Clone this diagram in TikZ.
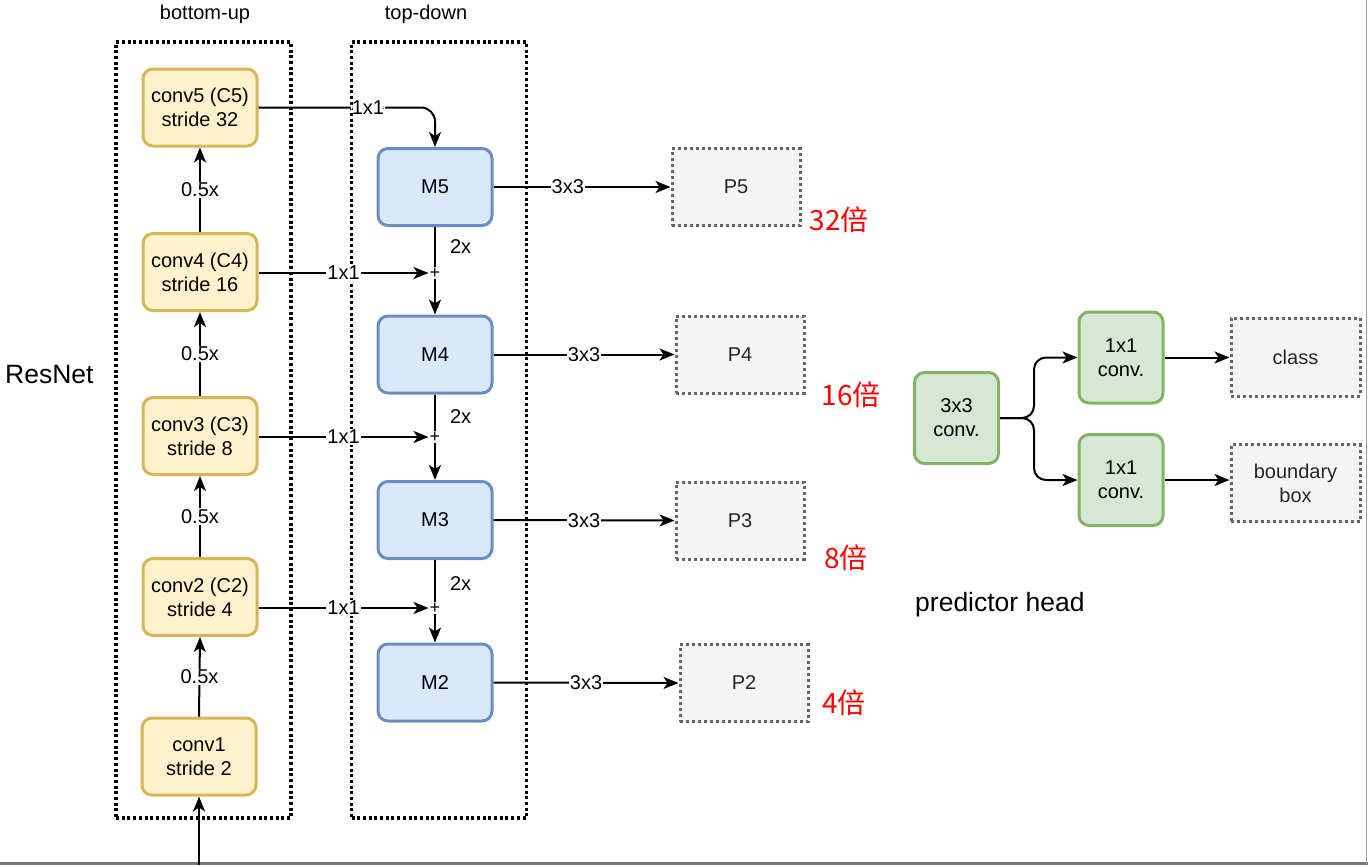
\documentclass[tikz,border=0pt]{standalone}
\usepackage{fontspec}
\setmainfont{Liberation Sans}
\newfontfamily\cjk{Noto Sans CJK SC}
\usetikzlibrary{arrows.meta}
\definecolor{yfill}{HTML}{FFF2CC}\definecolor{ydraw}{HTML}{D6B656}
\definecolor{bfill}{HTML}{DAE8FC}\definecolor{bdraw}{HTML}{6C8EBF}
\definecolor{gfill}{HTML}{D5E8D4}\definecolor{gdraw}{HTML}{82B366}
\definecolor{pfill}{HTML}{F5F5F5}\definecolor{pdraw}{HTML}{666666}
\definecolor{frame}{HTML}{777777}
\begin{document}
\begin{tikzpicture}[x=1pt,y=-1pt,
  base/.style={font=\fontsize{20}{24}\selectfont, align=center, inner sep=0pt},
  ybox/.style={base, draw=ydraw, fill=yfill, line width=3pt, rounded corners=10pt, minimum width=114pt, minimum height=77pt},
  bbox/.style={base, draw=bdraw, fill=bfill, line width=3pt, rounded corners=10pt, minimum width=114pt, minimum height=77pt},
  gbox/.style={base, draw=gdraw, fill=gfill, line width=3pt, rounded corners=10pt, minimum width=84pt, minimum height=91pt},
  pbox/.style={base, draw=pdraw, fill=pfill, line width=3pt, dash pattern=on 3pt off 3pt, minimum width=128pt, minimum height=77pt, text=black!85},
  group/.style={draw=black, line width=3.3pt, dash pattern=on 3pt off 2.7pt, minimum width=175pt, minimum height=776pt, inner sep=0pt},
  edge/.style={line width=2pt, -{Stealth[length=15pt,width=12pt,inset=4pt]}},
  plain/.style={line width=2pt},
  lbl/.style={base, fill=white, inner sep=1pt},
  plus/.style={font=\fontsize{18}{18}\selectfont, inner sep=1pt},
  redlbl/.style={font=\cjk\fontsize{28}{30}\selectfont, text=red, inner sep=0pt},
  title/.style={font=\fontsize{26.5}{30}\selectfont, inner sep=0pt},
]
\useasboundingbox (0,0) rectangle (1368,865);
% frame of screenshot
\draw[frame, line width=3pt] (0,863.5) -- (1368,863.5);
\draw[frame!70, line width=1.5pt] (1366.5,0) -- (1366.5,865);

% groups
\node[group] (gbu) at (203.5,430) {};
\node[group] (gtd) at (439,430) {};
\node[base, anchor=base] (tbu) at (205,19) {bottom-up};
\node[base, anchor=base] (ttd) at (426,19) {top-down};
\node[title, anchor=base west] (resnet) at (5,383) {ResNet};

% bottom-up
\node[ybox] (c5) at (200,107.5) {conv5 (C5)\\stride 32};
\node[ybox] (c4) at (200,272) {conv4 (C4)\\stride 16};
\node[ybox] (c3) at (200,436) {conv3 (C3)\\stride 8};
\node[ybox] (c2) at (200,597) {conv2 (C2)\\stride 4};
\node[ybox] (c1) at (199,756.5) {conv1\\stride 2};
\coordinate (inp) at (199,865);

% top-down
\node[bbox] (m5) at (435,187) {M5};
\node[bbox] (m4) at (435,354.5) {M4};
\node[bbox] (m3) at (435,520) {M3};
\node[bbox] (m2) at (435,682.5) {M2};
\node[plus] (p4) at (435,273) {+};
\node[plus] (p3) at (435,437) {+};
\node[plus] (p2) at (435,608) {+};

% outputs
\node[pbox] (o5) at (736,187) {P5};
\node[pbox] (o4) at (740,354.5) {P4};
\node[pbox] (o3) at (740,520.5) {P3};
\node[pbox] (o2) at (744,683) {P2};
\node[redlbl] (r5) at (839,220) {32倍};
\node[redlbl] (r4) at (851,395) {16倍};
\node[redlbl] (r3) at (846,558) {8倍};
\node[redlbl] (r2) at (844,703) {4倍};

% bottom-up edges
\draw[edge] (inp) -- (c1.south);
\draw[edge] (c1.north) -- node[lbl]{0.5x} (c2.south);
\draw[edge] (c2.north) -- node[lbl]{0.5x} (c3.south);
\draw[edge] (c3.north) -- node[lbl]{0.5x} (c4.south);
\draw[edge] (c4.north) -- node[lbl]{0.5x} (c5.south);

% lateral edges
\draw[edge, rounded corners=14pt] (c5.east) -| node[lbl, pos=0.31]{1x1} (m5.north);
\draw[edge] (p4 -| c4.east) -- node[lbl]{1x1} (p4.west);
\draw[edge] (p3 -| c3.east) -- node[lbl]{1x1} (p3.west);
\draw[edge] (p2 -| c2.east) -- node[lbl]{1x1} (p2.west);

% top-down edges
\draw[plain] (m5.south) -- node[base, anchor=west, xshift=14pt]{2x} (p4.north);
\draw[edge] (p4.south) -- (m4.north);
\draw[plain] (m4.south) -- node[base, anchor=west, xshift=14pt, yshift=-4pt]{2x} (p3.north);
\draw[edge] (p3.south) -- (m3.north);
\draw[plain] (m3.south) -- node[base, anchor=west, xshift=14pt, yshift=-3pt]{2x} (p2.north);
\draw[edge] (p2.south) -- (m2.north);

% output edges
\draw[edge] (m5.east) -- node[lbl, pos=0.42]{3x3} (o5.west);
\draw[edge] (m4.east) -- node[lbl]{3x3} (o4.west);
\draw[edge] (m3.east) -- node[lbl]{3x3} (o3.west);
\draw[edge] (m2.east) -- node[lbl]{3x3} (o2.west);

% predictor head
\node[gbox] (h3) at (956.5,418) {3x3\\conv.};
\node[gbox] (h1a) at (1121,357.5) {1x1\\conv.};
\node[gbox] (h1b) at (1121,480) {1x1\\conv.};
\node[pbox, minimum width=129pt, minimum height=78pt] (cls) at (1295.5,357) {class};
\node[pbox, minimum width=129pt, minimum height=77pt] (bb) at (1295.5,483) {boundary\\box};
\draw[edge, rounded corners=12pt] (h3.east) -- ++(34,0) |- (h1a.west);
\draw[edge, rounded corners=12pt] (h3.east) -- ++(34,0) |- (h1b.west);
\draw[edge] (h1a.east) -- (h1a.east -| cls.west);
\draw[edge] (h1b.east) -- (h1b.east -| bb.west);
\node[title, anchor=base west] (ph) at (915,611) {predictor head};
\end{tikzpicture}
\end{document}
